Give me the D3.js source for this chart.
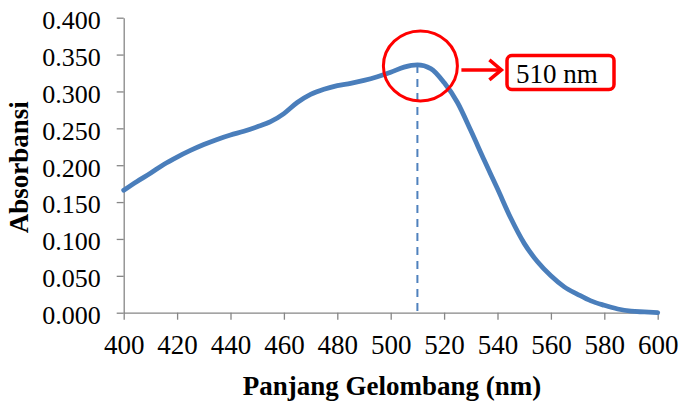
<!DOCTYPE html>
<html>
<head>
<meta charset="utf-8">
<script src="https://cdn.jsdelivr.net/npm/d3@7"></script>
<style>
  body { margin: 0; background: #fff; }
  svg text { font-family: 'Liberation Serif', 'Times New Roman', serif !important; }
</style>
</head>
<body>
<script>
// wavelength (nm) and absorbance
var wavelength = [400, 405, 410, 415, 420, 425, 430, 435, 440, 445,
                  450, 455, 460, 465, 470, 475, 480, 485, 490, 495,
                  500, 505, 510, 515, 520, 525, 530, 535, 540, 545,
                  550, 555, 560, 565, 570, 575, 580, 585, 590, 595, 600]
var absorbance = [0.166, 0.178, 0.189, 0.201, 0.211, 0.220, 0.228, 0.235, 0.241, 0.246,
                  0.252, 0.259, 0.270, 0.285, 0.296, 0.303, 0.308, 0.311, 0.315, 0.320,
                  0.326, 0.333, 0.336, 0.331, 0.312, 0.285, 0.247, 0.207, 0.168, 0.128,
                  0.094, 0.069, 0.050, 0.035, 0.025, 0.016, 0.010, 0.005, 0.002, 0.001, 0.000]
var xTicks = [400, 420, 440, 460, 480, 500, 520, 540, 560, 580, 600]
var yTicks = [0, 0.05, 0.1, 0.15, 0.2, 0.25, 0.3, 0.35, 0.4]
var peakNm = 510
var peakLabel = "510 nm"

function main() {

   var serif = "'Liberation Serif', 'Times New Roman', serif"

   var svg = d3.select("body")
               .append("svg")
               .attr("width", 681)
               .attr("height", 401)
               .style("font-family", serif)

   var x = d3.scaleLinear().domain([400, 600]).range([123.7, 657.7])
   var y = d3.scaleLinear().domain([0, 0.4]).range([312.7, 17.7])

   var axisColor = "#868686"

   var yAxis = svg.append("g")
                  .attr("transform", "translate(" + x(400) + ",0)")
                  .call(d3.axisLeft(y).tickValues(yTicks).tickFormat(d3.format(".3f"))
                          .tickSize(7).tickSizeOuter(0).tickPadding(16))
   var xAxis = svg.append("g")
                  .attr("transform", "translate(0," + y(0) + ")")
                  .call(d3.axisBottom(x).tickValues(xTicks).tickFormat(d3.format("d"))
                          .tickSize(7).tickSizeOuter(0).tickPadding(15))

   // axis() puts font-family="sans-serif" on the group, drop it
   yAxis.attr("font-family", null)
   xAxis.attr("font-family", null)

   svg.selectAll(".domain, .tick line").attr("stroke", axisColor).attr("stroke-width", 1.3)
   yAxis.selectAll("text").attr("font-size", 26).attr("dy", "0.42em")
        .attr("fill", "#000").style("font-family", serif)
   xAxis.selectAll("text").attr("font-size", 27).attr("fill", "#000").style("font-family", serif)

   // dashed line at the peak
   var peakVal = absorbance[wavelength.indexOf(peakNm)]
   svg.append("line")
      .attr("x1", x(peakNm)).attr("x2", x(peakNm))
      .attr("y1", y(peakVal)).attr("y2", y(0))
      .attr("stroke", "#4F81BD")
      .attr("stroke-width", 2)
      .attr("stroke-dasharray", "8,6")

   // spectrum
   var line = d3.line()
                .x(function(d, i) { return x(wavelength[i]) })
                .y(function(d) { return y(d) })
                .curve(d3.curveMonotoneX)
   svg.append("path")
      .datum(absorbance)
      .attr("d", line)
      .attr("fill", "none")
      .attr("stroke", "#4A7EBB")
      .attr("stroke-width", 4.8)
      .attr("stroke-linejoin", "round")
      .attr("stroke-linecap", "round")

   // axis titles
   svg.append("text")
      .attr("x", 392).attr("y", 395)
      .attr("text-anchor", "middle")
      .attr("font-size", 27).attr("font-weight", "bold")
      .style("font-family", serif)
      .text("Panjang Gelombang (nm)")
   svg.append("text")
      .attr("transform", "translate(28," + (y(0.2) + 2) + ") rotate(-90)")
      .attr("text-anchor", "middle")
      .attr("font-size", 27).attr("font-weight", "bold")
      .style("font-family", serif)
      .text("Absorbansi")

   // peak annotation
   var cx = x(peakNm) + 3, cy = y(peakVal) + 1
   svg.append("ellipse")
      .attr("cx", cx).attr("cy", cy)
      .attr("rx", 37).attr("ry", 35)
      .attr("fill", "none").attr("stroke", "#FF0000").attr("stroke-width", 3)

   svg.append("line")
      .attr("x1", cx + 41).attr("y1", cy + 4)
      .attr("x2", cx + 80).attr("y2", cy + 4)
      .attr("stroke", "#FF0000").attr("stroke-width", 3.5)
   svg.append("path")
      .attr("d", "M" + (cx + 69) + "," + (cy - 6) + " L" + (cx + 81) + "," + (cy + 4) + " L" + (cx + 69) + "," + (cy + 14))
      .attr("fill", "none").attr("stroke", "#FF0000").attr("stroke-width", 3.5)
      .attr("stroke-linejoin", "miter")

   svg.append("rect")
      .attr("x", 507).attr("y", 55.5)
      .attr("width", 107).attr("height", 34)
      .attr("rx", 5).attr("ry", 5)
      .attr("fill", "#fff").attr("stroke", "#FF0000").attr("stroke-width", 3.5)
   svg.append("text")
      .attr("x", 516).attr("y", 83)
      .attr("font-size", 27)
      .style("font-family", serif)
      .text(peakLabel)
}

main()
</script>
</body>
</html>
